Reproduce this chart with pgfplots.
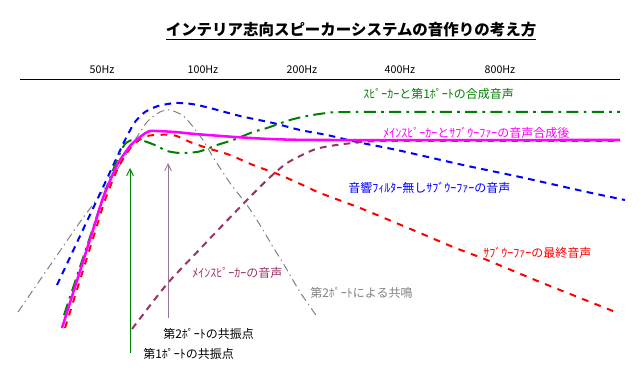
\documentclass[border=0pt]{standalone}
\usepackage{pgfplots}
\pgfplotsset{compat=1.18}
\usepackage{fontspec}
\setmainfont{Noto Sans CJK JP}
\usetikzlibrary{arrows.meta}
\definecolor{cgreen}{RGB}{0,128,0}
\definecolor{cpurple}{RGB}{153,51,102}
\definecolor{carrow}{RGB}{150,120,150}
\definecolor{cgray}{RGB}{128,128,128}
\definecolor{cmag}{RGB}{255,0,255}
\definecolor{cblue}{RGB}{0,0,255}
\definecolor{cred}{RGB}{255,0,0}
\begin{document}
\begin{tikzpicture}
\begin{axis}[hide axis, scale only axis, width=480.75pt, height=285.75pt,
  xmin=0, xmax=641, ymin=0, ymax=381, y dir=reverse, clip=false]
\path (axis cs:0,0) rectangle (axis cs:641,381);
% top line
\addplot[black, line width=0.75pt] coordinates {(20,80) (620,80)};
% gray: port 2 resonance
\addplot[cgray, line width=0.75pt, dash pattern=on 6pt off 3pt on 1pt off 3pt, smooth, tension=0.4] coordinates {
(18,312)(62,248)(80,222)(100,195)(117,170)(130,148)(147,122)(160,112)(170,110)(182,115)(190,123)(203,140)(213,157)(230,183)(247,205)(260,225)(273,247)(283,263)(300,292)(318,318)};
% blue: subwoofer w/o filter
\addplot[cblue, line width=1.5pt, dash pattern=on 5pt off 4pt, smooth, tension=0.4] coordinates {
(57,285)(80,236)(105,183)(125,140)(135,122)(145,112)(158,106)(175,103)(192,104)(210,108)(240,116)(273,123)(300,130)(327,135)(357,142)(397,150)(463,165)(520,177)(587,192)(625,200)};
% purple: main speaker
\addplot[cpurple, line width=1.5pt, dash pattern=on 5pt off 4pt, smooth, tension=0.4] coordinates {
(132,329)(167,284)(200,249)(218,230)(247,200)(267,180)(287,163)(313,150)(330,146)(353,143)(390,141)(620,141)};
% red: subwoofer final
\addplot[cred, line width=1.5pt, dash pattern=on 5pt off 5pt, smooth, tension=0.4] coordinates {
(65,328)(95,232)(105,200)(118,168)(132,146)(147,136)(173,135)(190,142)(207,148)(230,155)(253,165)(280,175)(307,187)(320,193)(360,208)(420,233)(453,247)(487,260)(540,282)(618,313)};
% green: speaker + port 1
\addplot[cgreen, line width=1.5pt, dash pattern=on 9pt off 4pt on 2pt off 4pt, smooth, tension=0.4] coordinates {
(64,315)(95,222)(105,192)(117,160)(125,144)(135,139)(147,142)(157,146)(167,151)(180,153)(197,152)(207,149)(217,145)(233,140)(253,132)(267,128)(290,120)(307,116)(327,113)(355,112)(620,112)};
% magenta: combined
\addplot[cmag, line width=1.9pt, smooth, tension=0.3] coordinates {
(62,328)(93,230)(103,198)(117,165)(130,146)(140,137)(150,131)(175,132)(195,134)(235,137)(270,139)(320,140)(620,140)};
% arrows
\addplot[cgreen, line width=0.75pt, -{Straight Barb[length=5pt,width=5pt]}] coordinates {(130,353) (130,168)};
\addplot[carrow, line width=0.75pt, -{Straight Barb[length=5pt,width=5pt]}] coordinates {(168,318) (168,163)};
% title
\node[font=\fontsize{11.6}{13}\selectfont\bfseries] at (axis cs:351,31) {\underline{インテリア志向スピーカーシステムの音作りの考え方}};
% frequency labels
\foreach \x/\l in {102/50Hz,203/100Hz,302/200Hz,400/400Hz,500/800Hz}{
  \edef\tmp{\noexpand\node[font=\noexpand\fontsize{8}{9}\noexpand\selectfont] at (axis cs:\x,70) {\l};}\tmp}
% labels
\node[anchor=west, text=cgreen, font=\fontsize{9}{10}\selectfont, inner sep=0pt] at (axis cs:363,94) {ｽﾋﾟｰｶｰと第1ﾎﾟｰﾄの合成音声};
\node[anchor=west, text=cmag, font=\fontsize{9}{10}\selectfont, inner sep=0pt] at (axis cs:383,133) {ﾒｲﾝｽﾋﾟｰｶｰとｻﾌﾞｳｰﾌｧｰの音声合成後};
\node[anchor=west, text=cblue, font=\fontsize{9}{10}\selectfont, inner sep=0pt] at (axis cs:348,188) {音響ﾌｨﾙﾀｰ無しｻﾌﾞｳｰﾌｧｰの音声};
\node[anchor=west, text=cred, font=\fontsize{9}{10}\selectfont, inner sep=0pt] at (axis cs:483,253) {ｻﾌﾞｳｰﾌｧｰの最終音声};
\node[anchor=west, text=cpurple, font=\fontsize{9}{10}\selectfont, inner sep=0pt] at (axis cs:192,273) {ﾒｲﾝｽﾋﾟｰｶｰの音声};
\node[anchor=west, text=cgray, font=\fontsize{9}{10}\selectfont, inner sep=0pt] at (axis cs:310,293) {第2ﾎﾟｰﾄによる共鳴};
\node[anchor=west, text=black, font=\fontsize{9}{10}\selectfont, inner sep=0pt] at (axis cs:163,334) {第2ﾎﾟｰﾄの共振点};
\node[anchor=west, text=black, font=\fontsize{9}{10}\selectfont, inner sep=0pt] at (axis cs:143,354) {第1ﾎﾟｰﾄの共振点};
\end{axis}
\end{tikzpicture}
\end{document}
